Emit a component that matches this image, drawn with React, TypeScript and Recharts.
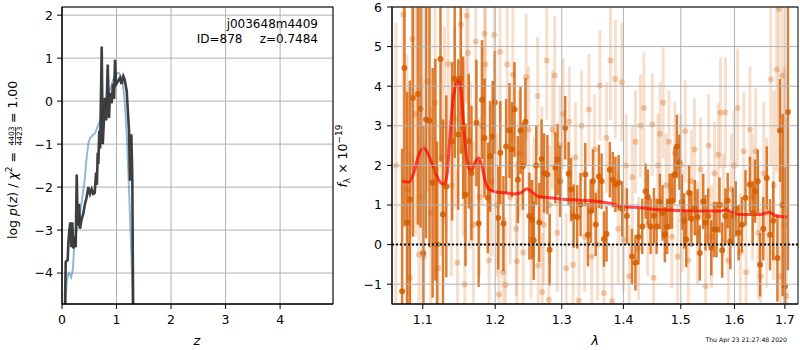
import {
  ComposedChart,
  Line,
  Scatter,
  ErrorBar,
  XAxis,
  YAxis,
  CartesianGrid,
  ReferenceLine,
} from "recharts";

// left panel: log p(z)
const zTicks = [0, 1, 2, 3, 4];
const pTicks = [-4, -3, -2, -1, 0, 1, 2];

const zFit = [0.04, 0.068, 0.086, 0.104, 0.116, 0.134, 0.152, 0.171, 0.189, 0.207, 0.225, 0.251, 0.27, 0.288, 0.312, 0.33, 0.36, 0.39, 0.422, 0.45, 0.483, 0.514, 0.545, 0.574, 0.6, 0.624, 0.64, 0.655, 0.666, 0.684, 0.7, 0.728, 0.747, 0.765, 0.789, 0.81, 0.839, 0.862, 0.881, 0.91, 0.935, 0.955, 0.972, 0.991, 1.02, 1.064, 1.09, 1.125, 1.15, 1.187, 1.229, 1.248, 1.272, 1.29, 1.31];
const logpFit = [-6, -3.74, -3.72, -3.7, -3.32, -3.01, -2.82, -3.4, -2.82, -3.43, -3.15, -3.4, -1.71, -2.9, -2.39, -2.97, -2.75, -2.62, -2.39, -2.25, -2.0, -2.16, -2.05, -2.16, -2.14, -1.66, -1.95, -1.2, -1.47, -0.69, -1.1, 1.27, -1.0, -0.55, 0.08, -0.45, 0.85, -0.39, 0.19, -0.05, 0.4, 0.05, 0.96, 0.39, 0.45, 0.54, 0.4, 0.58, 0.5, 0.23, -0.69, -1.85, -0.77, -1.85, -6];

const zPhot = [0.045, 0.07, 0.086, 0.11, 0.13, 0.15, 0.167, 0.185, 0.2, 0.23, 0.27, 0.306, 0.36, 0.42, 0.445, 0.465, 0.49, 0.514, 0.563, 0.606, 0.64, 0.7, 0.76, 0.82, 0.88, 0.94, 0.99, 1.04, 1.077, 1.114, 1.15, 1.187, 1.224, 1.26, 1.29, 1.32];
const logpPhot = [-6, -4.6, -4.19, -4.05, -4.0, -4.05, -4.1, -4.0, -3.9, -3.26, -3.0, -2.83, -2.35, -1.8, -1.4, -1.16, -0.95, -0.86, -0.79, -0.75, -0.64, -0.45, -0.23, 0.0, 0.27, 0.5, 0.63, 0.66, 0.58, 0.43, 0.0, -0.78, -1.9, -3.1, -4.26, -6];

// right panel: spectrum
const lamTicks = [1.1, 1.2, 1.3, 1.4, 1.5, 1.6, 1.7];
const fluxTicks = [-1, 0, 1, 2, 3, 4, 5, 6];

const lamBin = [1.073, 1.076, 1.0796, 1.083, 1.0869, 1.0935, 1.097, 1.1006, 1.1042, 1.1089, 1.1131, 1.1167, 1.119, 1.1236, 1.127, 1.1315, 1.1394, 1.143, 1.1478, 1.1514, 1.1547, 1.1579, 1.1625, 1.1663, 1.1732, 1.1764, 1.1811, 1.1847, 1.1894, 1.1926, 1.1964, 1.1996, 1.2045, 1.2074, 1.2119, 1.2159, 1.2208, 1.2243, 1.2282, 1.2332, 1.2371, 1.2406, 1.2445, 1.2504, 1.2544, 1.2569, 1.2608, 1.2653, 1.2688, 1.2727, 1.2777, 1.2812, 1.29, 1.2935, 1.2975, 1.3054, 1.3107, 1.3146, 1.3188, 1.3243, 1.3297, 1.3373, 1.3416, 1.3459, 1.3497, 1.3541, 1.3594, 1.3638, 1.3676, 1.3719, 1.3773, 1.3822, 1.3866, 1.3919, 1.3979, 1.4059, 1.4146, 1.4204, 1.4256, 1.4321, 1.4378, 1.4418, 1.4465, 1.4523, 1.457, 1.4627, 1.4674, 1.4714, 1.4756, 1.4801, 1.4843, 1.4888, 1.493, 1.4976, 1.5019, 1.5062, 1.5099, 1.5149, 1.5192, 1.5254, 1.5304, 1.5347, 1.541, 1.5453, 1.5504, 1.556, 1.5612, 1.5659, 1.5715, 1.5765, 1.5827, 1.587, 1.592, 1.5971, 1.6024, 1.608, 1.6144, 1.6214, 1.63, 1.6354, 1.64, 1.6454, 1.65, 1.6564, 1.6634, 1.67, 1.6764, 1.6848, 1.69, 1.6954, 1.7, 1.7062];
const fluxBin = [-1.18, 4.46, 0.56, 1.14, 3.7, 3.8, 3.43, -0.21, 3.16, 3.13, 1.56, 1.89, 0.0, 4.69, 0.76, 1.47, 2.61, 4.19, 2.78, 4.19, 2.95, 1.26, 2.61, 1.81, 3.07, 0.53, 3.66, 2.69, 1.18, 2.23, 2.73, 3.59, 0.67, 2.32, 0.53, 2.48, 2.88, 2.4, 3.41, 1.64, 2.88, 1.98, 3.1, 0.72, 0.63, 0.11, 2.0, 0.56, 2.16, 1.81, 1.77, -0.13, 1.94, 2.15, 1.6, 2.95, 1.79, 1.39, 0.72, 0.7, 1.01, 1.77, 0.25, 0.84, 1.6, 0.51, 1.72, 1.6, 0.14, 0.27, 1.89, 1.64, 1.52, 1.56, 0.9, 0.72, -0.3, -0.46, 0.2, 0.46, 1.35, 1.2, 0.46, 0.73, 0.46, 1.09, 0.8, 0.25, 0.46, 1.09, 1.1, 1.77, 2.48, 2.08, 1.07, 0.6, 0.13, 1.31, 0.65, 0.93, 0.7, -0.21, 1.09, 0.55, 0.72, -0.08, 0.38, 0.38, 1.0, -0.14, 0.72, 1.11, 0.08, 0.72, 0.9, 0.3, 0.5, 1.18, 1.52, 0.8, 1.35, 1.6, -0.51, 0.4, 1.68, 0.25, 0.6, -0.34, 2.88, 1.0, -1.05, 3.35];
const errBin = [3.6, 4.0, 3.3, 3.0, 3.5, 3.3, 3.0, 3.2, 3.0, 3.2, 2.9, 2.8, 2.6, 2.6, 2.4, 2.3, 2.0, 2.0, 1.9, 1.9, 1.8, 1.8, 1.7, 1.7, 1.6, 1.6, 1.5, 1.5, 1.4, 1.4, 1.4, 1.3, 1.3, 1.3, 1.2, 1.2, 1.2, 1.2, 1.2, 1.1, 1.1, 1.1, 1.1, 1.1, 1.0, 1.0, 1.0, 1.0, 1.0, 1.0, 1.0, 0.9, 0.9, 0.9, 0.9, 0.8, 0.8, 0.8, 0.8, 0.8, 0.8, 0.8, 0.8, 0.8, 0.8, 0.8, 0.8, 0.7, 0.7, 0.7, 0.7, 0.7, 0.7, 0.7, 0.7, 0.7, 0.7, 0.7, 0.7, 0.7, 0.7, 0.7, 0.7, 0.7, 0.7, 0.7, 0.7, 0.7, 0.7, 0.7, 0.7, 0.7, 0.8, 0.7, 0.7, 0.7, 0.7, 0.7, 0.7, 0.7, 0.7, 0.7, 0.7, 0.7, 0.7, 0.7, 0.7, 0.7, 0.7, 0.7, 0.7, 0.7, 0.7, 0.7, 0.7, 0.7, 0.7, 0.7, 0.7, 0.8, 0.8, 0.8, 0.8, 0.8, 0.8, 0.9, 1.0, 1.1, 1.3, 2.3, 3.0, 4.0, 5.0];

const lamRaw = [1.065, 1.0745, 1.079, 1.083, 1.0861, 1.0905, 1.0948, 1.099, 1.1014, 1.1061, 1.1107, 1.1163, 1.1205, 1.125, 1.129, 1.1339, 1.1385, 1.143, 1.1468, 1.1514, 1.155, 1.157, 1.1593, 1.1617, 1.1649, 1.169, 1.1722, 1.1774, 1.1815, 1.1847, 1.1861, 1.1912, 1.1954, 1.1986, 1.2025, 1.2055, 1.207, 1.2114, 1.215, 1.2174, 1.2218, 1.2258, 1.2307, 1.2318, 1.2351, 1.2411, 1.2455, 1.2492, 1.2529, 1.2574, 1.2629, 1.2638, 1.2693, 1.27, 1.2723, 1.2767, 1.28, 1.2812, 1.2856, 1.289, 1.293, 1.2975, 1.3021, 1.307, 1.3118, 1.3179, 1.3216, 1.327, 1.3313, 1.3363, 1.3432, 1.3476, 1.3524, 1.3573, 1.361, 1.3675, 1.3719, 1.3784, 1.3811, 1.3865, 1.3914, 1.3974, 1.4, 1.4047, 1.4099, 1.4152, 1.4204, 1.4256, 1.4291, 1.4348, 1.4413, 1.4495, 1.4518, 1.4593, 1.463, 1.4684, 1.4737, 1.4789, 1.4841, 1.4893, 1.4946, 1.4998, 1.5024, 1.508, 1.5136, 1.5192, 1.5248, 1.5304, 1.536, 1.5453, 1.5509, 1.5565, 1.5621, 1.569, 1.5733, 1.5789, 1.5826, 1.5882, 1.5938, 1.5994, 1.606, 1.6114, 1.618, 1.6224, 1.63, 1.6354, 1.6414, 1.6464, 1.6514, 1.6574, 1.6634, 1.6714, 1.6774, 1.6834, 1.688, 1.6914, 1.6948, 1.6994, 1.7035];
const fluxRaw = [2.0, 5.81, 1.4, -0.84, 5.19, 3.3, -0.25, 1.2, -0.3, 4.12, 0.8, 3.59, -0.6, 2.2, 3.0, 4.56, 1.5, 3.2, -0.46, 5.56, 2.4, -1.01, 5.78, 4.84, 2.0, 0.5, 5.13, 1.2, 3.0, 5.33, 4.55, -0.4, 1.6, 5.3, 1.0, -1.26, 4.87, -0.7, -1.02, 4.55, 1.2, 4.29, 0.4, -0.42, 2.3, -0.2, 4.23, 2.9, 0.13, 1.2, 3.75, -0.53, 2.0, -1.2, 0.5, 4.65, -1.39, 1.0, 2.9, 4.27, 0.3, 2.5, 3.3, -0.6, 3.1, -0.51, 2.2, -1.41, 3.0, 0.2, 3.41, -0.3, 2.4, 0.0, 4.02, -1.22, 2.7, 4.65, -1.43, 4.18, 0.4, 4.1, 0.13, 2.0, -0.8, 1.7, 2.6, -0.1, 3.0, 3.45, 0.5, 3.03, -0.84, 2.0, 2.8, 3.58, 1.5, 2.6, 0.2, 2.3, -0.3, 2.0, 0.6, 2.86, -0.4, 1.6, 2.4, 0.3, 1.9, -1.05, 2.5, 0.2, 1.8, 2.27, 3.33, 1.0, 3.34, -0.4, 1.4, 2.0, 3.45, -0.2, 2.36, -0.7, 2.9, 1.2, 2.36, 0.3, -0.8, 1.8, 0.8, 4.17, 1.5, 4.42, 5.95, -0.8, 4.27, 0.5, -1.3];
const errRaw = [3.6, 3.5, 3.4, 3.2, 3.3, 3.1, 3.0, 3.0, 2.9, 2.8, 2.7, 2.6, 2.6, 2.5, 2.5, 2.4, 2.3, 2.3, 2.3, 2.3, 2.2, 2.2, 2.2, 2.2, 2.1, 2.1, 2.0, 2.0, 2.0, 2.0, 2.0, 1.9, 1.9, 1.8, 1.8, 1.8, 1.8, 1.8, 1.7, 1.7, 1.7, 1.7, 1.7, 1.6, 1.6, 1.6, 1.6, 1.6, 1.5, 1.5, 1.5, 1.5, 1.5, 1.5, 1.5, 1.5, 1.5, 1.5, 1.5, 1.5, 1.5, 1.5, 1.4, 1.4, 1.4, 1.4, 1.4, 1.4, 1.4, 1.4, 1.4, 1.4, 1.4, 1.4, 1.4, 1.4, 1.4, 1.5, 1.4, 1.5, 1.4, 1.5, 1.3, 1.3, 1.3, 1.3, 1.3, 1.3, 1.3, 1.4, 1.3, 1.3, 1.3, 1.3, 1.3, 1.4, 1.3, 1.3, 1.3, 1.3, 1.3, 1.3, 1.3, 1.3, 1.3, 1.3, 1.3, 1.3, 1.3, 1.3, 1.3, 1.3, 1.3, 1.3, 1.4, 1.3, 1.4, 1.4, 1.4, 1.4, 1.5, 1.5, 1.5, 1.5, 1.6, 1.6, 1.6, 1.7, 1.7, 1.8, 1.9, 2.2, 2.4, 2.6, 3.0, 3.2, 3.5, 4.0, 4.5];

const lamModel = [1.0732, 1.0817, 1.0881, 1.0947, 1.1014, 1.1083, 1.1153, 1.1222, 1.1283, 1.1329, 1.1361, 1.1408, 1.1454, 1.1486, 1.1524, 1.1569, 1.1617, 1.1662, 1.1708, 1.1764, 1.1811, 1.1857, 1.1917, 1.201, 1.2134, 1.2282, 1.2382, 1.2466, 1.253, 1.2629, 1.2778, 1.2975, 1.3297, 1.3621, 1.3784, 1.3946, 1.4291, 1.4639, 1.4988, 1.536, 1.5733, 1.5826, 1.592, 1.6114, 1.6514, 1.668, 1.6814, 1.7048];
const fluxModel = [1.6, 1.58, 1.81, 2.27, 2.44, 2.23, 1.89, 1.6, 1.52, 1.81, 2.65, 3.66, 4.08, 4.17, 3.75, 2.65, 1.98, 1.85, 2.06, 2.19, 1.98, 1.6, 1.39, 1.33, 1.31, 1.28, 1.31, 1.41, 1.35, 1.22, 1.19, 1.15, 1.12, 1.08, 1.04, 0.97, 0.93, 0.88, 0.86, 0.85, 0.85, 0.88, 0.83, 0.76, 0.76, 0.82, 0.73, 0.7];

const FONT = "DejaVu Sans";
const ORANGE = "#D55E00";
const GRID = "#b0b0b0";

const fitData = zFit.map((z, i) => ({ z, p: logpFit[i] }));
const photData = zPhot.map((z, i) => ({ z, p: logpPhot[i] }));
const binData = lamBin.map((lam, i) => ({ lam, f: fluxBin[i], err: errBin[i] }));
const rawData = lamRaw.map((lam, i) => ({ lam, f: fluxRaw[i], err: errRaw[i] }));
const modelData = lamModel.map((lam, i) => ({ lam, f: fluxModel[i] }));

const minus = (v: number) => (v < 0 ? "\u2212" + Math.abs(v) : String(v));
const tickStyle = { fill: "#000", fontSize: 12.5, fontFamily: FONT };

// error bars are not clipped by recharts, so clip them to the plot box
const clipCss = `.spec .recharts-errorBars, .spec .recharts-errorBar, .spec .recharts-scatter { clip-path: url(#specClip); }`;

export default function App() {
  return (
    <div style={{ position: "fixed", left: 0, top: 0, width: 800, height: 350, background: "#fff" }}>
      <style>{clipCss}</style>
      <svg width={1} height={1} style={{ position: "absolute", left: 0, top: 0 }}>
        <defs>
          <clipPath id="specClip" clipPathUnits="userSpaceOnUse">
            <rect x={52} y={7} width={406} height={297} />
          </clipPath>
        </defs>
      </svg>

      <div style={{ position: "absolute", left: 0, top: 0 }}>
        <ComposedChart width={340} height={350} margin={{ top: 7, right: 7, bottom: 16, left: 0 }}>
          <CartesianGrid stroke={GRID} strokeWidth={1} />
          <XAxis
            type="number"
            dataKey="z"
            domain={[0, 4.97]}
            ticks={zTicks}
            allowDataOverflow
            height={30}
            tick={tickStyle}
            tickSize={5}
            tickMargin={6}
            tickLine={{ stroke: "#000" }}
            axisLine={{ stroke: "#000" }}
          />
          <YAxis
            type="number"
            domain={[-4.72, 2.19]}
            ticks={pTicks}
            allowDataOverflow
            width={62}
            tick={tickStyle}
            tickSize={5}
            tickMargin={4}
            tickFormatter={minus}
            tickLine={{ stroke: "#000" }}
            axisLine={{ stroke: "#000" }}
          />
          <Line data={photData} dataKey="p" type="linear" stroke="#1f77b4" strokeOpacity={0.5} strokeWidth={2} dot={false} isAnimationActive={false} />
          <Line data={fitData} dataKey="p" type="linear" stroke="#2a2a2a" strokeOpacity={0.9} strokeWidth={2.6} dot={false} isAnimationActive={false} />
        </ComposedChart>
      </div>

      <div className="spec" style={{ position: "absolute", left: 340, top: 0 }}>
        <ComposedChart width={460} height={350} margin={{ top: 7, right: 2, bottom: 16, left: 0 }}>
          <XAxis
            type="number"
            dataKey="lam"
            scale="log"
            domain={[1.06, 1.727]}
            ticks={lamTicks}
            allowDataOverflow
            height={30}
            tick={tickStyle}
            tickSize={5}
            tickMargin={6}
            tickFormatter={(v: number) => v.toFixed(1)}
            tickLine={{ stroke: "#000" }}
            axisLine={{ stroke: "#000" }}
          />
          <YAxis
            type="number"
            dataKey="f"
            domain={[-1.5, 6]}
            ticks={fluxTicks}
            allowDataOverflow
            width={52}
            tick={tickStyle}
            tickSize={5}
            tickMargin={5}
            tickFormatter={minus}
            tickLine={{ stroke: "#000" }}
            axisLine={{ stroke: "#000" }}
          />
          <Scatter
            data={rawData}
            isAnimationActive={false}
            shape={(p: any) => <circle cx={p.cx} cy={p.cy} r={3} fill={ORANGE} fillOpacity={0.3} />}
          >
            <ErrorBar dataKey="err" direction="y" width={0} stroke={ORANGE} strokeOpacity={0.2} strokeWidth={3} />
          </Scatter>
          <Scatter
            data={binData}
            isAnimationActive={false}
            shape={(p: any) => <circle cx={p.cx} cy={p.cy} r={3} fill={ORANGE} fillOpacity={0.85} />}
          >
            <ErrorBar dataKey="err" direction="y" width={0} stroke={ORANGE} strokeOpacity={0.8} strokeWidth={2.5} />
          </Scatter>
          <Line data={modelData} dataKey="f" type="monotone" stroke="#ff0000" strokeOpacity={0.7} strokeWidth={3} dot={false} isAnimationActive={false} />
          {fluxTicks.map((t) => (
            <ReferenceLine key={"h" + t} y={t} stroke={GRID} strokeWidth={1} zIndex={1100} />
          ))}
          {lamTicks.map((t) => (
            <ReferenceLine key={"v" + t} x={t} stroke={GRID} strokeWidth={1} zIndex={1100} />
          ))}
          <ReferenceLine y={0} stroke="#000" strokeWidth={2} strokeDasharray="2 2" zIndex={1200} />
        </ComposedChart>
      </div>

      <svg width={800} height={350} style={{ position: "absolute", left: 0, top: 0, pointerEvents: "none" }} fontFamily={FONT}>
        <rect x={62} y={7} width={271} height={297} fill="none" stroke="#000" strokeWidth={1} />
        <rect x={392} y={7} width={406} height={297} fill="none" stroke="#000" strokeWidth={1} />

        <text x={318} y={28} fontSize={12} textAnchor="end">j003648m4409</text>
        <text x={242.5} y={42.5} fontSize={12} textAnchor="end">ID=878</text>
        <text x={318} y={42.5} fontSize={12} textAnchor="end">z=0.7484</text>

        <text x={197} y={345} fontSize={13} fontStyle="italic" textAnchor="middle">z</text>
        <text x={595} y={345} fontSize={13} fontStyle="italic" textAnchor="middle">λ</text>

        <g transform="translate(17,155) rotate(-90)" fontSize={12.5}>
          <text x={3} y={0} textAnchor="end">
            log <tspan fontStyle="italic">p</tspan>(<tspan fontStyle="italic">z</tspan>) / <tspan fontStyle="italic">χ</tspan>
            <tspan fontSize={9} dy={-5}>2</tspan>
            <tspan dy={5}> =</tspan>
          </text>
          <text x={19} y={-3} fontSize={7.5} textAnchor="middle">4403</text>
          <line x1={10} x2={28} y1={-1.5} y2={-1.5} stroke="#000" strokeWidth={0.7} />
          <text x={19} y={5} fontSize={7.5} textAnchor="middle">4423</text>
          <text x={32} y={0} textAnchor="start">= 1.00</text>
        </g>

        <g transform="translate(347,156) rotate(-90)" fontSize={12.5}>
          <text x={0} y={0} textAnchor="middle">
            <tspan fontStyle="italic">f</tspan>
            <tspan fontSize={9} dy={3}>λ</tspan>
            <tspan dy={-3}> × 10</tspan>
            <tspan fontSize={9} dy={-5}>−19</tspan>
          </text>
        </g>

        <text x={787} y={342} fontSize={6.2} textAnchor="end">Thu Apr 23 21:27:48 2020</text>
      </svg>
    </div>
  );
}
